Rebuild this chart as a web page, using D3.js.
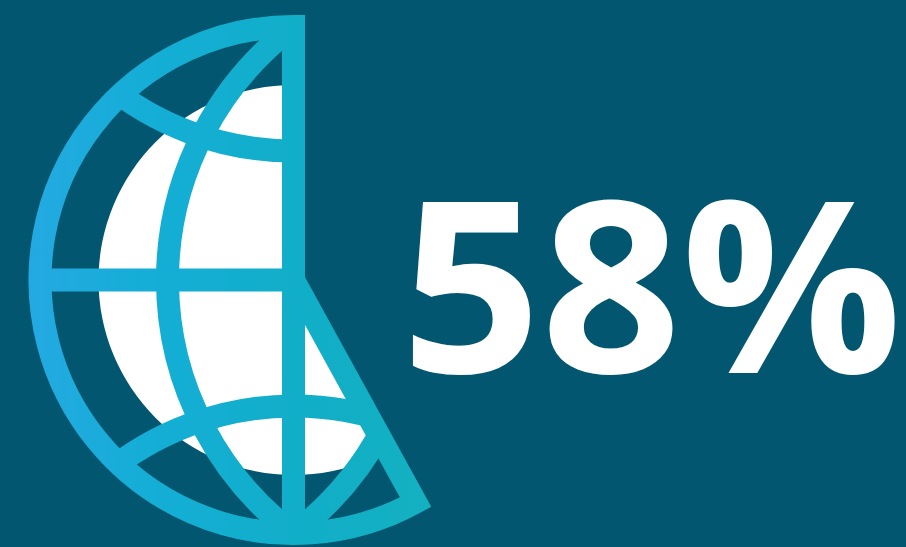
<!DOCTYPE html>
<html>
<head>
<meta charset="utf-8">
<script src="https://cdn.jsdelivr.net/npm/d3@7"></script>
<style>
html, body { margin: 0; padding: 0; background: #02566f; overflow: hidden; }
svg { display: block; }
</style>
</head>
<body>
<div id="chart"></div>
<script>
var categories = ["Yes", "Other"]
var values = [58, 42]
var label = "58%"

var width = 906, height = 547
var cx = 293.5, cy = 280
var radius = 253.5, band = 23, whiteRadius = 195

var svg = d3.select("#chart").append("svg")
	.attr("width", width)
	.attr("height", height)

var defs = svg.append("defs")

// left blue to teal on the right
var grad = defs.append("linearGradient")
	.attr("id", "globeGrad")
	.attr("gradientUnits", "userSpaceOnUse")
	.attr("x1", 28 - cx).attr("y1", 0)
	.attr("x2", 430 - cx).attr("y2", 0)
grad.append("stop").attr("offset", 0).attr("stop-color", "#24a9e2")
grad.append("stop").attr("offset", 0.3).attr("stop-color", "#14aed6")
grad.append("stop").attr("offset", 0.7).attr("stop-color", "#11aec8")
grad.append("stop").attr("offset", 1).attr("stop-color", "#13b1c0")

// pie starts at 12 o'clock and runs counter clockwise
var pie = d3.pie().sort(null).value(d => d).startAngle(0).endAngle(-2 * Math.PI)
var slice = pie(values)[0]
var arc = d3.arc().innerRadius(0).outerRadius(radius)

defs.append("clipPath").attr("id", "sliceClip")
	.append("path")
	.attr("d", arc(slice))

var g = svg.append("g").attr("transform", `translate(${cx},${cy})`)

var inside = g.append("g").attr("clip-path", "url(#sliceClip)")

inside.append("circle").attr("r", whiteRadius).attr("fill", "#fff")

var lines = inside.append("g")
	.attr("fill", "none")
	.attr("stroke", "url(#globeGrad)")
	.attr("stroke-width", band)

// equator
lines.append("line").attr("x1", -radius).attr("x2", radius).attr("y1", 0).attr("y2", 0)
// meridians, pointed at the poles
lines.append("line").attr("x1", 0).attr("x2", 0).attr("y1", -radius).attr("y2", radius)
lines.append("path").attr("d", `M0,${-radius} A318,318 0 0 0 0,${radius}`)
lines.append("path").attr("d", `M0,${-radius} A318,318 0 0 1 0,${radius}`)
// latitude arcs
lines.append("path").attr("d", "M-190,-198 A296,296 0 0 0 190,-198")
lines.append("path").attr("d", "M-190,195 A296,296 0 0 1 190,195")

g.append("path")
	.attr("d", arc(slice))
	.attr("fill", "none")
	.attr("stroke", "url(#globeGrad)")
	.attr("stroke-width", band)
	.attr("stroke-linejoin", "miter")
	.attr("stroke-miterlimit", 10)

// the font in the picture runs a bit wider than Open Sans
svg.append("text")
	.attr("transform", "translate(651.5,373) scale(1.03,1)")
	.attr("text-anchor", "middle")
	.attr("font-family", "'Open Sans'")
	.attr("font-weight", 700)
	.attr("font-size", 238)
	.attr("fill", "#fff")
	.text(label)
</script>
</body>
</html>
